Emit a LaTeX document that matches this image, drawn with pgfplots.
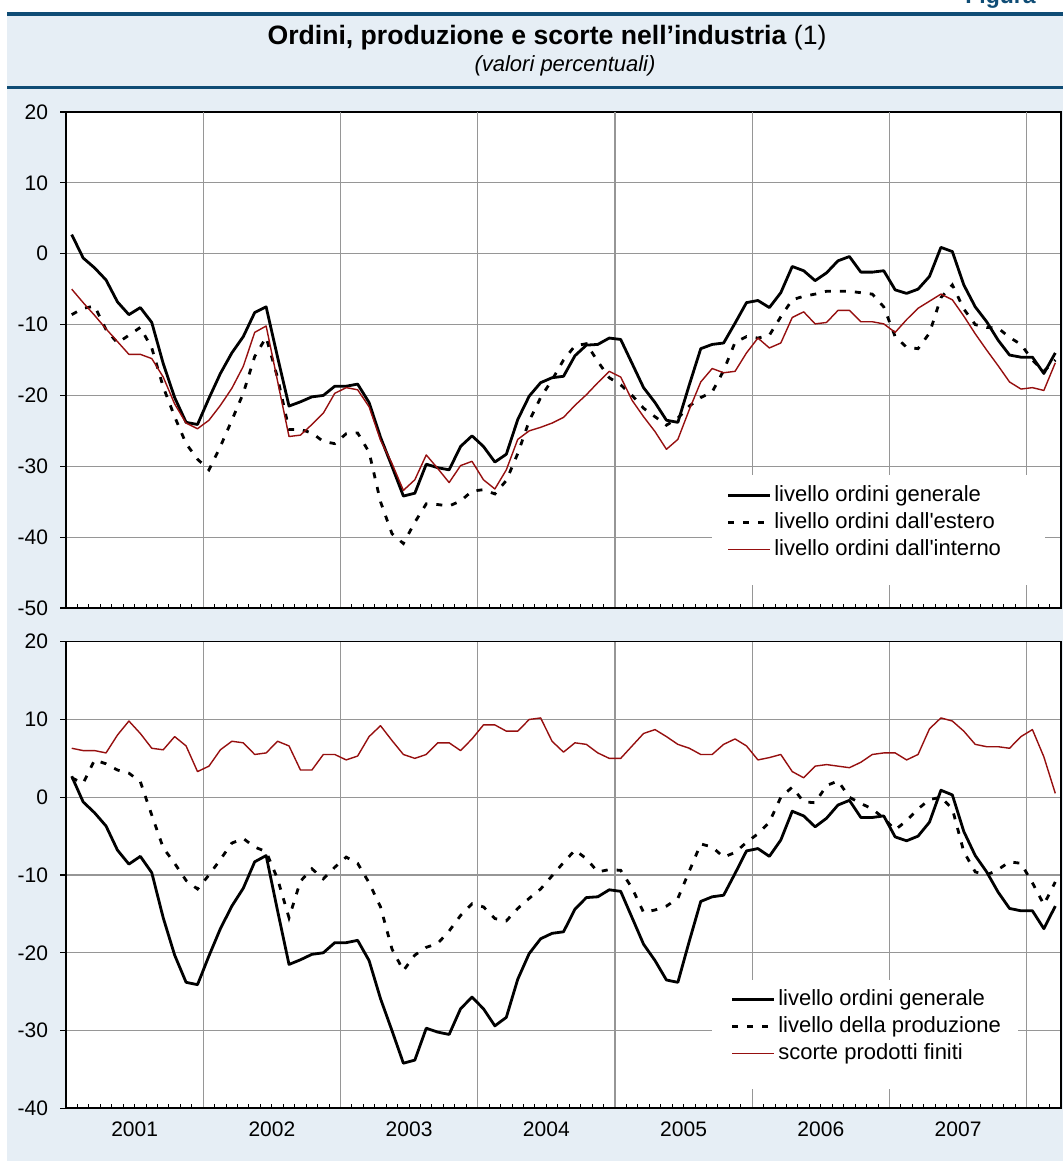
\documentclass[border=0pt]{standalone}
\usepackage{fontspec}
\setmainfont{Liberation Sans}
\usepackage{pgfplots}
\pgfplotsset{compat=1.18}
\usepackage{pgfplotstable}

\definecolor{bgblue}{RGB}{230,238,245}
\definecolor{dkblue}{RGB}{15,76,117}
\definecolor{dred}{RGB}{150,15,15}
\definecolor{gridgray}{RGB}{150,150,150}

\pgfplotstableread{
x gen est int prod sco
0.5 2.7 -8.6 -5.0 2.5 6.3
1.5 -0.6 -7.7 -6.9 1.8 6.0
2.5 -2.0 -7.4 -8.7 4.8 6.0
3.5 -3.7 -10.7 -10.6 4.3 5.7
4.5 -6.8 -12.6 -12.4 3.5 8.0
5.5 -8.6 -11.5 -14.2 3.1 9.8
6.5 -7.6 -10.4 -14.2 2.0 8.2
7.5 -9.7 -13.3 -14.8 -2.3 6.3
8.5 -15.5 -18.8 -17.4 -6.5 6.1
9.5 -20.3 -23.0 -21.2 -8.5 7.8
10.5 -23.8 -26.8 -23.9 -10.7 6.6
11.5 -24.1 -29.0 -24.7 -11.8 3.3
12.5 -20.4 -30.5 -23.5 -10.0 4.0
13.5 -16.9 -27.2 -21.4 -8.0 6.1
14.5 -14.0 -23.5 -19.0 -5.9 7.2
15.5 -11.7 -19.7 -15.9 -5.3 7.0
16.5 -8.3 -14.5 -11.1 -6.4 5.5
17.5 -7.5 -11.8 -10.2 -7.0 5.7
18.5 -14.6 -17.5 -18.0 -10.5 7.2
19.5 -21.5 -24.8 -25.8 -15.5 6.6
20.5 -20.9 -24.8 -25.6 -10.8 3.5
21.5 -20.2 -25.3 -24.1 -9.2 3.5
22.5 -20.0 -26.5 -22.5 -10.5 5.5
23.5 -18.7 -26.8 -19.7 -9.0 5.5
24.5 -18.7 -25.4 -18.9 -7.7 4.8
25.5 -18.4 -25.3 -19.2 -8.5 5.3
26.5 -21.0 -28.0 -21.6 -11.0 7.8
27.5 -25.9 -35.0 -26.3 -14.1 9.2
28.5 -30.0 -39.5 -29.6 -19.5 7.3
29.5 -34.2 -40.9 -33.4 -22.3 5.5
30.5 -33.8 -37.9 -31.9 -20.3 5.0
31.5 -29.7 -35.3 -28.4 -19.3 5.5
32.5 -30.2 -35.4 -30.3 -18.8 7.0
33.5 -30.5 -35.6 -32.3 -17.2 7.0
34.5 -27.2 -34.9 -29.9 -15.2 6.0
35.5 -25.7 -33.5 -29.3 -13.7 7.5
36.5 -27.2 -33.3 -31.9 -14.1 9.3
37.5 -29.4 -33.9 -33.2 -15.6 9.3
38.5 -28.3 -32.0 -30.5 -15.9 8.5
39.5 -23.4 -28.2 -26.2 -14.3 8.5
40.5 -20.1 -23.6 -25.0 -13.0 10.0
41.5 -18.2 -20.3 -24.5 -11.8 10.2
42.5 -17.5 -17.8 -23.9 -10.1 7.2
43.5 -17.3 -15.0 -23.1 -8.4 5.8
44.5 -14.4 -13.0 -21.4 -6.8 7.0
45.5 -12.9 -12.7 -19.9 -7.9 6.8
46.5 -12.8 -15.2 -18.2 -9.6 5.7
47.5 -11.9 -17.5 -16.6 -9.3 5.0
48.5 -12.1 -18.5 -17.4 -9.4 5.0
49.5 -15.5 -20.0 -20.7 -11.7 6.6
50.5 -18.9 -21.8 -23.0 -14.8 8.2
51.5 -21.0 -23.0 -25.1 -14.5 8.7
52.5 -23.5 -24.2 -27.6 -14.0 7.8
53.5 -23.8 -23.2 -26.2 -13.0 6.8
54.5 -18.5 -21.5 -22.0 -9.5 6.3
55.5 -13.4 -20.3 -18.1 -6.0 5.5
56.5 -12.8 -19.5 -16.2 -6.4 5.5
57.5 -12.6 -16.5 -16.8 -7.7 6.8
58.5 -9.8 -12.5 -16.6 -7.1 7.5
59.5 -6.9 -11.7 -14.0 -5.8 6.6
60.5 -6.6 -11.9 -11.9 -4.7 4.8
61.5 -7.6 -11.5 -13.3 -3.2 5.1
62.5 -5.5 -8.9 -12.6 0.0 5.5
63.5 -1.8 -6.5 -9.0 1.3 3.3
64.5 -2.4 -6.0 -8.2 -0.6 2.5
65.5 -3.8 -5.7 -9.9 -0.7 4.0
66.5 -2.7 -5.3 -9.7 1.5 4.2
67.5 -1.0 -5.3 -8.0 2.1 4.0
68.5 -0.4 -5.3 -8.0 0.0 3.8
69.5 -2.6 -5.5 -9.6 -0.8 4.5
70.5 -2.6 -5.7 -9.6 -1.5 5.5
71.5 -2.4 -7.5 -9.9 -2.7 5.7
72.5 -5.1 -11.7 -11.1 -4.2 5.7
73.5 -5.6 -13.2 -9.3 -3.0 4.8
74.5 -5.0 -13.4 -7.7 -1.5 5.5
75.5 -3.2 -11.2 -6.7 -0.3 8.8
76.5 0.9 -6.2 -5.7 0.0 10.2
77.5 0.3 -4.4 -6.5 -1.5 9.8
78.5 -4.4 -7.8 -8.8 -7.0 8.5
79.5 -7.5 -10.0 -11.3 -9.6 6.8
80.5 -9.6 -10.4 -13.6 -10.0 6.5
81.5 -12.2 -10.5 -15.8 -9.3 6.5
82.5 -14.3 -11.8 -18.1 -8.3 6.3
83.5 -14.6 -12.8 -19.1 -8.5 7.8
84.5 -14.6 -15.0 -18.9 -11.0 8.7
85.5 -16.9 -16.6 -19.3 -13.8 5.2
86.5 -14.0 -15.0 -15.4 -10.9 0.5
}\data

\pgfplotsset{
  common/.style={
    scale only axis, width=497.5pt, xmin=0, xmax=87,
    axis background/.style={fill=white},
    axis line style={line width=0.6pt, black},
    tick align=outside, major tick length=3pt, minor tick length=2pt,
    tick pos=left,
    tick style={black, line width=0.6pt},
    xtick={6,18,30,42,54,66,78},
    minor xtick={1,...,86},
    major x tick style={draw=none},
    minor x tick style={yshift=2pt, line width=0.5pt, black},
    extra x ticks={12,24,36,48,60,72,84},
    extra x tick labels={},
    extra x tick style={grid=major, major tick length=0pt},
    ymajorgrids,
    major grid style={gridgray, line width=0.6pt},
    tick label style={font=\fontsize{10.5}{12}\selectfont},
    yticklabel style={xshift=-2.5pt},
    legend cell align=left,
    legend image code/.code={\draw[##1] (0pt,0pt) -- (21pt,0pt);},
    legend style={draw=none, fill=none, inner sep=0pt, row sep=3.2pt,
      font=\fontsize{11}{13}\selectfont,
      nodes={inner xsep=1.2pt, inner ysep=0pt, text height=8pt, text depth=2.3pt}},
  },
  sgen/.style={black, line width=1.4pt, line join=round},
  sdash/.style={black, line width=1.4pt, dash pattern=on 3pt off 4.5pt},
  sred/.style={dred, line width=0.7pt, line join=round},
}

\begin{document}
\begin{tikzpicture}
\fill[white] (0pt,0pt) rectangle (531.5pt,-580.5pt);
\fill[bgblue] (3.5pt,-7pt) rectangle (531.5pt,-580.5pt);
\draw[dkblue, line width=2pt] (3.5pt,-7pt) -- (531.5pt,-7pt);
\draw[dkblue, line width=1.5pt] (3.5pt,-44pt) -- (531.5pt,-44pt);
\node[anchor=base, inner sep=0pt, font=\fontsize{13.3}{15}\selectfont] at (273.5pt,-22.25pt) {\textbf{Ordini, produzione e scorte nell’industria} (1)};
\node[anchor=base, inner sep=0pt, font=\fontsize{11}{13}\selectfont\itshape] at (282.5pt,-35.85pt) {(valori percentuali)};
\node[anchor=base west, inner sep=0pt, text=dkblue, font=\fontsize{11.5}{13}\selectfont\bfseries] at (482.5pt,-2pt) {Figura};

\begin{axis}[common, at={(33pt,-304pt)}, anchor=south west, height=248pt,
  ymin=-50, ymax=20, ytick={-50,-40,-30,-20,-10,0,10,20},
  yticklabels={-50,-40,-30,-20,-10,0,10,20},
  xticklabels={},
  legend style={at={(0.664,0.2486)}, anchor=north west}]
\fill[white] (axis cs:56.5,-31.2) rectangle (axis cs:85.6,-46.75);
\addplot[sgen] table[x=x,y=gen]{\data};
\addplot[sdash] table[x=x,y=est]{\data};
\addplot[sred] table[x=x,y=int]{\data};
\legend{livello ordini generale,livello ordini dall\textquotesingle estero,livello ordini dall\textquotesingle interno}
\draw[black, line width=1pt] (rel axis cs:0,0) -- (rel axis cs:0,1);
\draw[black, line width=1pt] (rel axis cs:0,0) -- (rel axis cs:1,0);
\end{axis}

\begin{axis}[common, at={(33pt,-554.15pt)}, anchor=south west, height=233.3pt,
  ymin=-40, ymax=20, ytick={-40,-30,-20,-10,0,10,20},
  yticklabels={-40,-30,-20,-10,0,10,20},
  xticklabels={2001,2002,2003,2004,2005,2006,2007},
  legend style={at={(0.668,0.2563)}, anchor=north west}]
\fill[white] (axis cs:56.5,-23.5) rectangle (axis cs:83.2,-37.5);
\addplot[sgen] table[x=x,y=gen]{\data};
\addplot[sdash] table[x=x,y=prod]{\data};
\addplot[sred] table[x=x,y=sco]{\data};
\legend{livello ordini generale,livello della produzione,scorte prodotti finiti}
\draw[black, line width=1pt] (rel axis cs:0,0) -- (rel axis cs:0,1);
\draw[black, line width=1pt] (rel axis cs:0,0) -- (rel axis cs:1,0);
\end{axis}

\pgfresetboundingbox
\useasboundingbox (0pt,0pt) rectangle (531.5pt,-580.5pt);
\end{tikzpicture}
\end{document}
